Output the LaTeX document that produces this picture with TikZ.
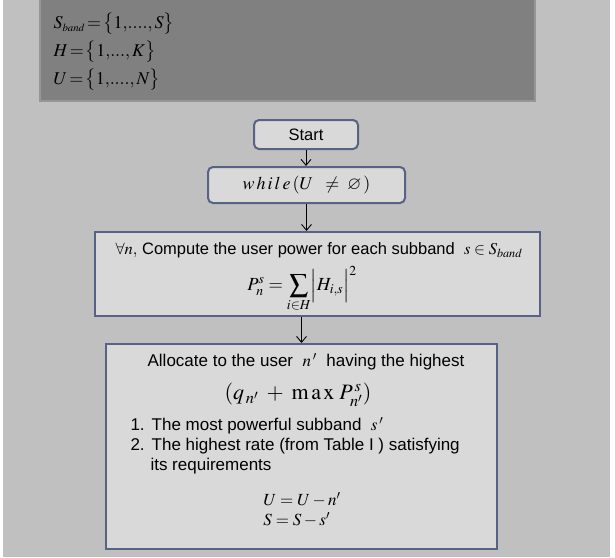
\documentclass[tikz,border=0pt]{standalone}
\usepackage{mathptmx}
\usepackage{amssymb}
\usepackage[no-math]{fontspec}
\setmainfont{Liberation Sans}
\usetikzlibrary{arrows.meta, positioning}

\definecolor{bggray}{RGB}{192,192,192}
\definecolor{setfill}{RGB}{128,128,128}
\definecolor{setline}{RGB}{150,150,150}
\definecolor{boxfill}{RGB}{217,217,217}
\definecolor{boxline}{RGB}{88,98,132}

\tikzset{
  setbox/.style={fill=setfill, draw=setline, line width=2pt},
  settext/.style={anchor=west, font=\fontsize{18}{20}\selectfont},
  flowbox/.style={draw=boxline, fill=boxfill, line width=2pt, inner sep=0pt},
  roundbox/.style={flowbox, rounded corners=5pt},
  flowarrow/.style={-{Straight Barb[length=6pt,width=10pt]}, line width=0.9pt},
  bigtext/.style={font=\fontsize{17}{20}\selectfont}
}

\begin{document}
\begin{tikzpicture}[x=1pt, y=-1pt, font=\fontsize{16.5}{20}\selectfont]
    \useasboundingbox (0,0) rectangle (615,557);

    % Background
    \fill[bggray] (3,0) rectangle (610,557);

    % Set definitions
    \draw[setbox] (40,-2) rectangle (535,101);
    \node[settext] (sband) at (50,24) {$S_{\scriptscriptstyle band}\,{=}\,\bigl\{1,\!....,S\bigr\}$};
    \node[settext] (hset) at (50,52) {$H\,{=}\,\bigl\{1,\!...,K\bigr\}$};
    \node[settext] (uset) at (50,80) {$U\,{=}\,\bigl\{1,\!....,N\bigr\}$};

    % Flow boxes
    \node[roundbox, minimum width=104pt, minimum height=29pt] (start) at (306,134.5) {Start};
    \node[roundbox, minimum width=197pt, minimum height=36pt] (loop) at (306.5,185)
        {\fontsize{18}{22}\selectfont$w\,h\,i\,l\,e\,(U\;\;\ne\;\varnothing\,)$};
    \node[flowbox, minimum width=445pt, minimum height=84pt] (compute) at (317.5,274) {};
    \node[flowbox, minimum width=391pt, minimum height=205pt] (alloc) at (301.5,446.5) {};

    % Compute box text
    \node[anchor=west] (power) at (112,250)
        {$\forall n,$\ Compute the user power for each subband\ \ $s\in S_{band}$};
    \node (psum) at (302,289)
        {\fontsize{18.5}{22}\selectfont$\displaystyle P_n^s=\sum_{i\in H}\Bigl|H_{i,s}\Bigr|^2$};

    % Allocation box text
    \node[bigtext] (pick) at (306,362) {Allocate to the user \ $n\,'$\ \ having the highest};
    \node (metric) at (298,395)
        {\fontsize{22}{26}\selectfont$(q_{\,n'}\;+\;\mathrm{m\,a\,x}\;P_{n'}^{\,s})$};
    \node[bigtext, anchor=north west, align=left] (items) at (127,414)
        {1.\hspace{7pt}The most powerful subband\ \ $s\,'$\\
         2.\hspace{7pt}The highest rate (from Table I ) satisfying\\
         \hspace*{20pt}its requirements};
    \node[bigtext, align=left] (update) at (302,510)
        {$U=U-n'$\\ $S=S-s'$};

    % Arrows
    \draw[flowarrow] (start.south) -- (start.south |- loop.north);
    \draw[flowarrow] (loop.south) -- (loop.south |- compute.north);
    \draw[flowarrow] (alloc.north |- compute.south) -- (alloc.north);
\end{tikzpicture}
\end{document}
